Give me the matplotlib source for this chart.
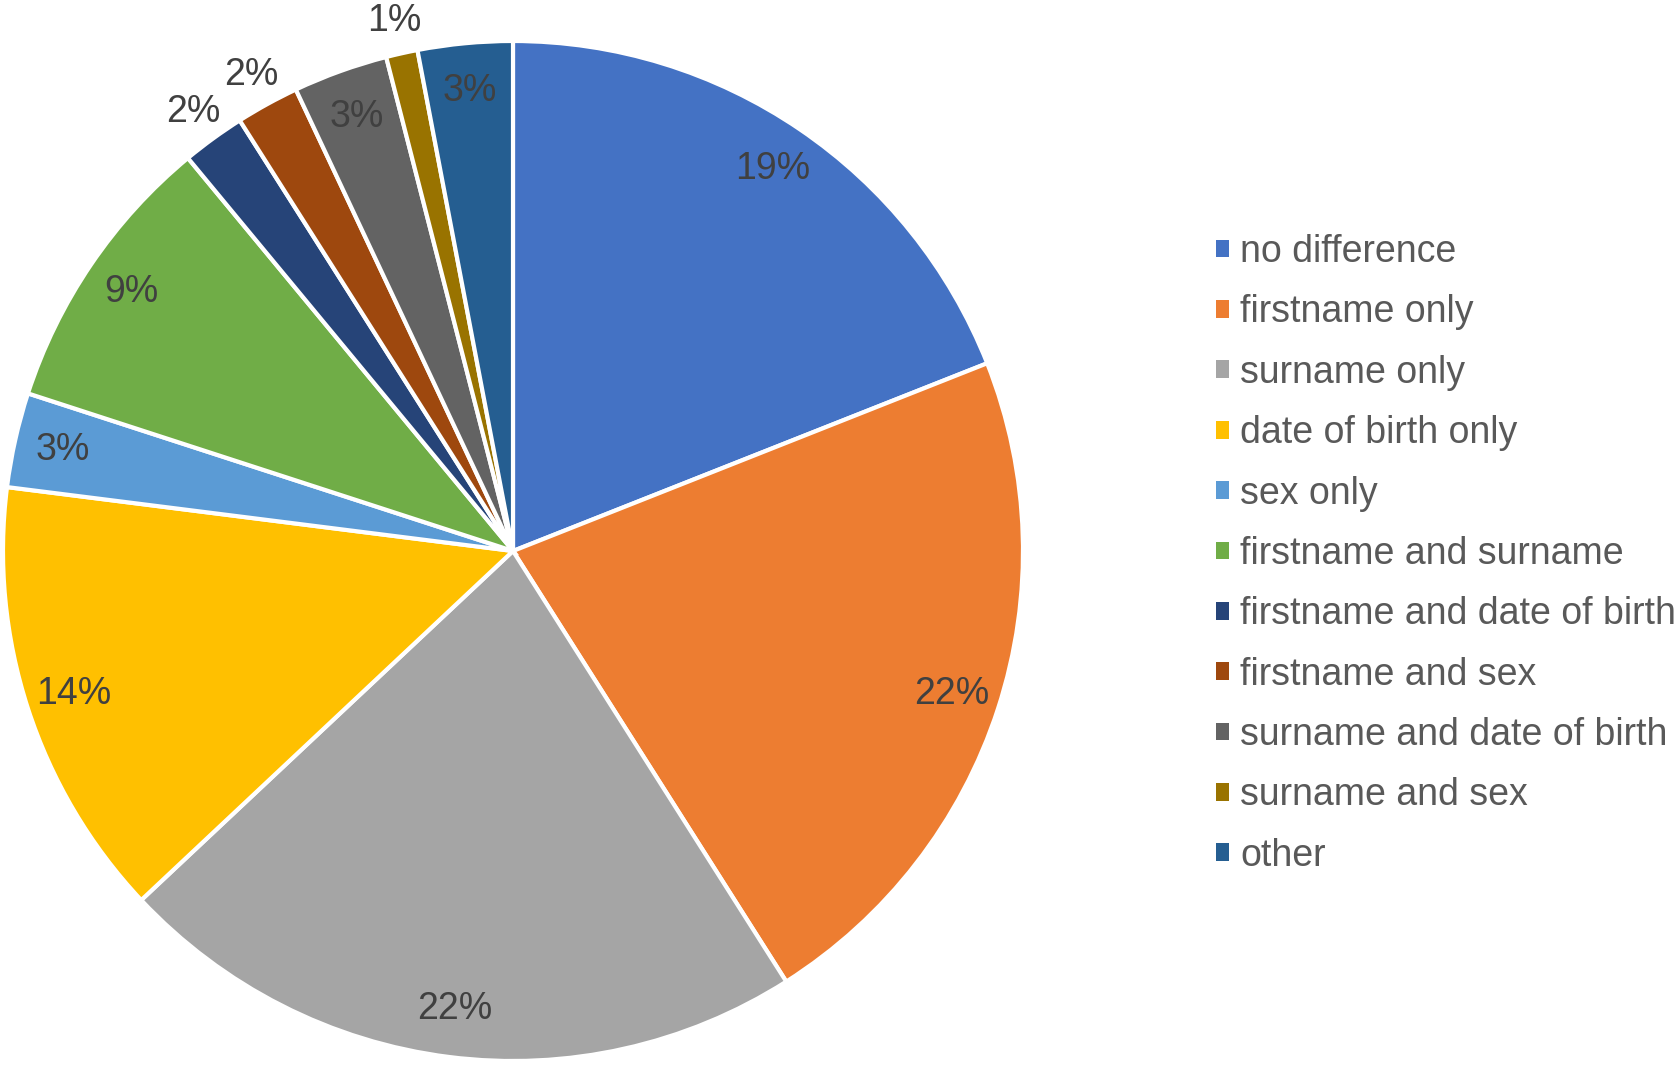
import matplotlib.pyplot as plt
import numpy as np
from matplotlib.patches import Patch

plt.rcParams['font.family'] = ['Liberation Sans', 'DejaVu Sans']

# share of record pairs by type of difference (%)
categories = ['no difference', 'firstname only', 'surname only', 'date of birth only',
              'sex only', 'firstname and surname', 'firstname and date of birth',
              'firstname and sex', 'surname and date of birth', 'surname and sex', 'other']
values = [19, 22, 22, 14, 3, 9, 2, 2, 3, 1, 3]
colors = ['#4472C4', '#ED7D31', '#A5A5A5', '#FFC000', '#5B9BD5', '#70AD47',
          '#264478', '#9E480E', '#636363', '#997300', '#255E91']
outside = [False, False, False, False, False, False, True, True, False, True, False]

W, H = 1676, 1065
fig = plt.figure(figsize=(W / 100, H / 100), dpi=100)
cx, cy, R = 513, 551, 510
ax = fig.add_axes([(cx - R) / W, (H - cy - R) / H, 2 * R / W, 2 * R / H])

wedges, _ = ax.pie(values, colors=colors, startangle=90, counterclock=False,
                   radius=1, wedgeprops=dict(edgecolor='white', linewidth=3))
ax.set_xlim(-1, 1)
ax.set_ylim(-1, 1)
ax.set_aspect('equal')

for w, v, out in zip(wedges, values, outside):
    ang = np.deg2rad((w.theta1 + w.theta2) / 2)
    r = 1.065 if out else 0.905
    ax.text(r * np.cos(ang), r * np.sin(ang), f'{v}%', ha='center', va='center',
            fontsize=27, color='#404040', clip_on=False)

handles = [Patch(facecolor=c, edgecolor='none') for c in colors]
fig.legend(handles, categories, loc='upper left', bbox_to_anchor=(1216 / W, 1 - 234 / H),
           frameon=False, fontsize=27, labelcolor='#595959', handlelength=0.35,
           handleheight=0.35, handletextpad=0.3, labelspacing=0.65, borderaxespad=0,
           borderpad=0)

fig.savefig('out.png', dpi=100)
